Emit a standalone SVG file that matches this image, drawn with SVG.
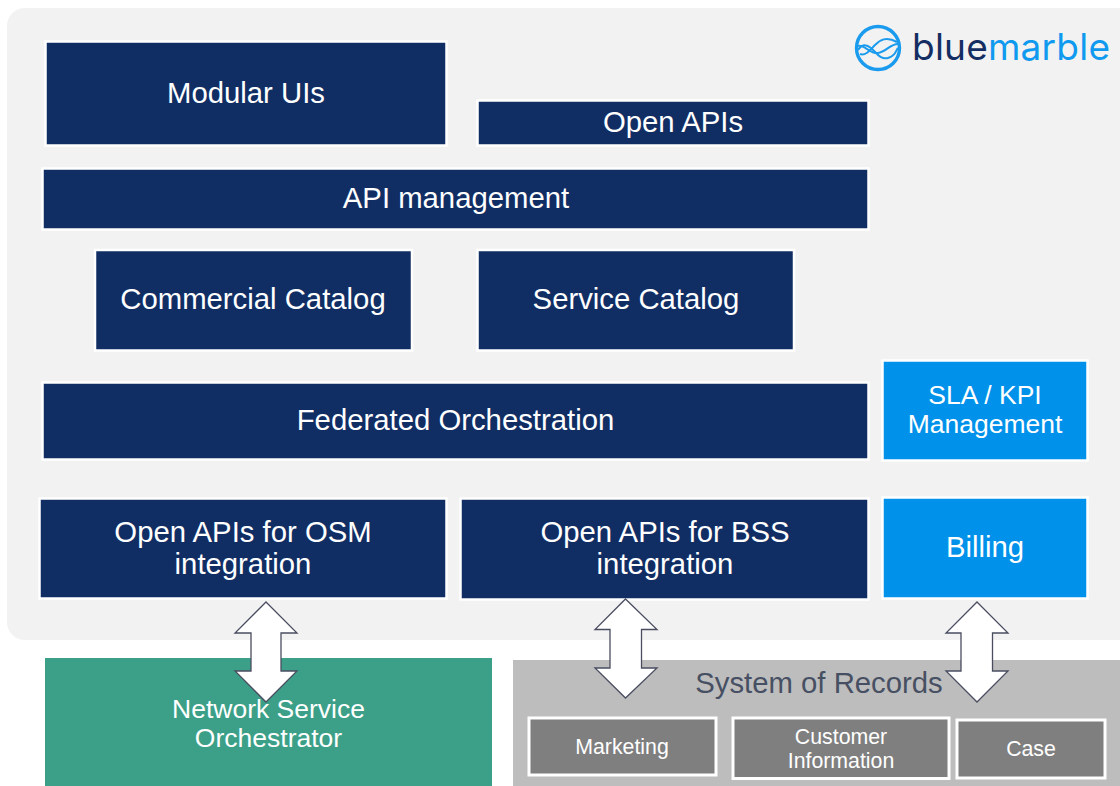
<svg xmlns="http://www.w3.org/2000/svg" width="1120" height="786" viewBox="0 0 1120 786">
<style>
text{font-family:"Liberation Sans",Arial,sans-serif;fill:#fff;text-anchor:middle}
.n{fill:#112e64;stroke:#fff;stroke-width:2.5}
.b{fill:#0091ea;stroke:#fff;stroke-width:2.5}
.g{fill:#7f7f7f;stroke:#fff;stroke-width:3}
.t{font-size:29.3px}
.m{font-size:26.5px}
.s{font-size:21.3px}
.a{fill:#fff;stroke:#4a4d60;stroke-width:1.3}
.w{fill:none;stroke:#1b9bee;stroke-width:2}
</style>
<rect id="panel" x="7" y="8" width="1133" height="632" rx="18" fill="#f2f2f2"/>
<g id="logo">
<circle cx="878" cy="48" r="21.500" fill="none" stroke="#1b9bee" stroke-width="3.400"/>
<path class="w" d="M858 50C862 44 866 44 871 48S880 60 888 58 896 50 898 48"/>
<path class="w" d="M860 54C866 56 870 50 875 45S886 36 897 42"/>
<path class="w" d="M858 46C864 44 870 54 878 53S890 44 898 44"/>
<text x="912" y="60" font-size="37" textLength="198" lengthAdjust="spacing" style="text-anchor:start;font-family:Inter,'Liberation Sans',sans-serif;fill:#0f9af0"><tspan style="fill:#142d63">blue</tspan>marble</text>
</g>
<g id="modular-uis"><rect class="n" x="45.500" y="41.500" width="401" height="104"/><text class="t" x="246" y="103">Modular UIs</text></g>
<g id="open-apis"><rect class="n" x="477.500" y="100.500" width="391" height="45"/><text class="t" x="673" y="132">Open APIs</text></g>
<g id="api-management"><rect class="n" x="42.500" y="168.500" width="826" height="61"/><text class="t" x="456" y="208">API management</text></g>
<g id="commercial-catalog"><rect class="n" x="95" y="250" width="317" height="100.500"/><text class="t" x="253" y="309">Commercial Catalog</text></g>
<g id="service-catalog"><rect class="n" x="477.500" y="250" width="316.500" height="100.500"/><text class="t" x="636" y="309">Service Catalog</text></g>
<g id="federated-orchestration"><rect class="n" x="42.500" y="382.500" width="826" height="77"/><text class="t" x="455.500" y="430">Federated Orchestration</text></g>
<g id="sla-kpi"><rect class="b" x="882.500" y="360.500" width="205" height="100"/><text class="m" x="985" y="404">SLA / KPI</text><text class="m" x="985" y="433">Management</text></g>
<g id="osm-integration"><rect class="n" x="39.500" y="498.500" width="407" height="100"/><text class="t" x="243" y="542">Open APIs for OSM</text><text class="t" x="243" y="574">integration</text></g>
<g id="bss-integration"><rect class="n" x="460.500" y="498.500" width="408" height="101"/><text class="t" x="665" y="542">Open APIs for BSS</text><text class="t" x="665" y="574">integration</text></g>
<g id="billing"><rect class="b" x="882.500" y="497.500" width="205" height="101"/><text class="t" x="985" y="557">Billing</text></g>
<g id="network-service-orchestrator"><rect x="45" y="658" width="447" height="128" fill="#3c9f88"/><text class="m" x="268.500" y="718">Network Service</text><text class="m" x="268.500" y="747">Orchestrator</text></g>
<g id="system-of-records"><rect x="513" y="660" width="607" height="126" fill="#bdbdbd"/><text x="819" y="693" font-size="29.300" style="fill:#475063">System of Records</text></g>
<g id="marketing"><rect class="g" x="529" y="718" width="187" height="57"/><text class="s" x="622" y="754">Marketing</text></g>
<g id="customer-information"><rect class="g" x="733" y="718" width="216" height="60.500"/><text class="s" x="841" y="744">Customer</text><text class="s" x="841" y="768">Information</text></g>
<g id="case"><rect class="g" x="957" y="720" width="148" height="58"/><text class="s" x="1031" y="756">Case</text></g>
<g id="connectors">
<polygon class="a" points="266,602 297,633 281,633 281,671 297,671 266,702 235,671 251,671 251,633 235,633"/>
<polygon class="a" points="625.500,599 657,629.500 641.500,629.500 641.500,668 657,668 625.500,698 595,668 610,668 610,629.500 595,629.500"/>
<polygon class="a" points="977,602 1008,633 992.500,633 992.500,671 1008,671 977,702 946,671 961,671 961,633 946,633"/>
</g>
</svg>
